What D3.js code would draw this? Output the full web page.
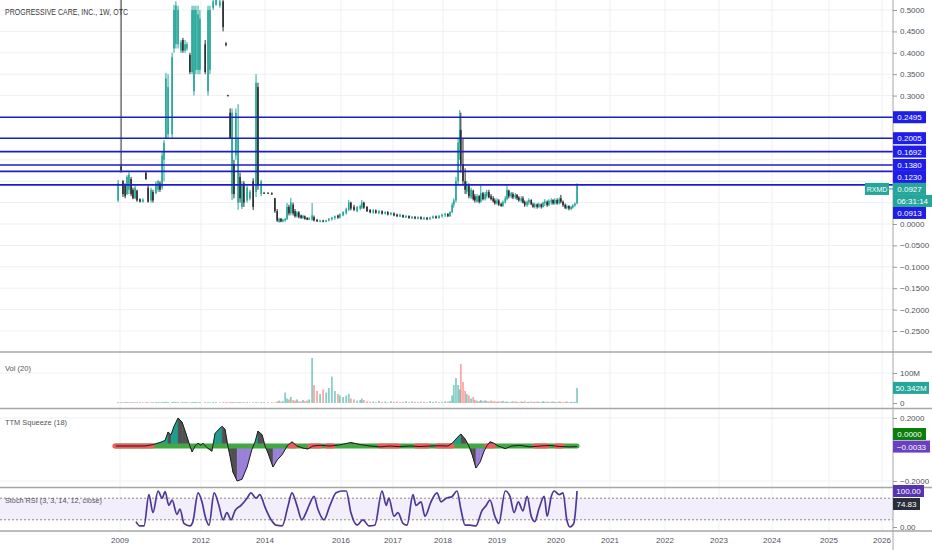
<!DOCTYPE html>
<html><head><meta charset="utf-8">
<script src="https://cdn.jsdelivr.net/npm/d3@7"></script>
<style>html,body{margin:0;padding:0;background:#fff;}svg{display:block;font-family:"Liberation Sans",Arial,sans-serif;}</style>
</head><body><svg id="c" width="932" height="550"></svg>
<script>
// ---------- DATA ----------
const title = "PROGRESSIVE CARE, INC., 1W, OTC";
const yearTicks = [2009,2012,2014,2016,2017,2018,2019,2020,2021,2022,2023,2024,2025,2026];
const yearPos   = [120,201,265,341,393,443,497,556,610,665,719,772,829,882]; // TradingView bar-index spacing
const priceTicks = [0.5,0.45,0.4,0.35,0.3,0.25,0.2,0.15,0.1,0.05,0,-0.05,-0.1,-0.15,-0.2,-0.25];
const levelValues = [0.2495,0.2005,0.1692,0.1380,0.1230,0.0913];
const lastPrice = 0.0927, ticker = "RXMD", countdown = "06:31:14";

const priceDates = [
2008.93,2009.04,2009.11,2009.19,2009.26,2009.33,2009.41,2009.48,2009.56,2009.63,
2009.74,2009.85,2009.96,2010.04,2010.15,2010.22,2010.33,2010.41,2010.48,2010.56,
2010.63,2010.70,2010.78,2010.93,2011.00,2011.07,2011.15,2011.26,2011.33,2011.41,
2011.48,2011.59,2011.67,2011.74,2011.81,2011.89,2011.96,2012.13,2012.22,2012.28,
2012.38,2012.47,2012.59,2012.69,2012.78,2012.84,2012.91,2012.97,2013.03,2013.09,
2013.16,2013.22,2013.28,2013.34,2013.44,2013.53,2013.63,2013.72,2013.78,2013.88,
2013.97,2014.08,2014.18,2014.26,2014.32,2014.37,2014.42,2014.47,2014.53,2014.58,
2014.63,2014.68,2014.74,2014.79,2014.84,2014.89,2014.95,2015.00,2015.05,2015.11,
2015.16,2015.24,2015.29,2015.37,2015.45,2015.53,2015.61,2015.68,2015.76,2015.84,
2015.92,2015.97,2016.04,2016.10,2016.15,2016.19,2016.25,2016.31,2016.37,2016.40,
2016.44,2016.50,2016.56,2016.62,2016.67,2016.73,2016.79,2016.85,2016.90,2016.96,
2017.02,2017.08,2017.14,2017.20,2017.26,2017.32,2017.38,2017.44,2017.50,2017.56,
2017.62,2017.68,2017.74,2017.80,2017.86,2017.92,2017.98,2018.04,2018.09,2018.13,
2018.17,2018.20,2018.24,2018.28,2018.31,2018.33,2018.37,2018.41,2018.44,2018.48,
2018.52,2018.56,2018.59,2018.63,2018.67,2018.70,2018.74,2018.78,2018.81,2018.85,
2018.89,2018.93,2018.96,2019.00,2019.03,2019.07,2019.10,2019.14,2019.17,2019.20,
2019.24,2019.27,2019.31,2019.34,2019.37,2019.41,2019.44,2019.47,2019.51,2019.54,
2019.58,2019.61,2019.64,2019.68,2019.71,2019.75,2019.78,2019.81,2019.85,2019.88,
2019.92,2019.95,2019.98,2020.02,2020.06,2020.09,2020.13,2020.17,2020.20,2020.24,
2020.28,2020.31,2020.35,2020.39];
const priceOpen = [
.055,.135,.10,.09,.07,.08,.105,.08,.06,.078,
.058,.052,.12,.085,.055,.075,.072,.08,.095,.085,
.15,.20,.21,.21,.41,.42,.42,.405,.43,.405,
.41,.395,.355,.31,.36,.36,.36,.42,.31,.36,
.505,.512,.51,.52,.422,.301,.26,.07,.14,.16,
.05,.11,.04,.095,.055,.06,.10,.075,.32,.07,
.073,.073,.072,.06,.03,.005,.012,.006,.008,.012,
.04,.025,.045,.03,.018,.027,.02,.014,.018,.014,
.01,.01,.016,.01,.005,.008,.005,.008,.011,.014,
.02,.015,.02,.025,.033,.05,.04,.03,.036,.038,
.05,.04,.033,.026,.032,.025,.03,.024,.028,.022,
.025,.022,.017,.021,.015,.019,.013,.017,.012,.016,
.011,.015,.011,.014,.018,.014,.018,.02,.024,.018,
.028,.045,.055,.10,.19,.22,.14,.10,.075,.09,
.062,.078,.065,.052,.065,.052,.072,.058,.065,.075,
.065,.06,.055,.048,.055,.047,.042,.05,.058,.078,
.064,.07,.062,.068,.062,.054,.06,.052,.044,.05,
.056,.046,.04,.046,.04,.046,.04,.048,.052,.044,
.05,.056,.048,.056,.048,.06,.052,.045,.037,.042,
.035,.038,.043,.048];
const priceHigh = [
.103,.62,.103,.095,.114,.121,.11,.085,.09,.08,
.06,.06,.121,.09,.085,.08,.10,.103,.10,.168,
.196,.353,.35,.40,.512,.52,.51,.43,.435,.43,
.425,.40,.51,.51,.51,.51,.50,.43,.51,.51,
.53,.53,.53,.53,.425,.302,.27,.27,.15,.27,
.28,.12,.10,.10,.09,.08,.107,.35,.33,.103,
.075,.074,.074,.061,.035,.015,.014,.012,.014,.049,
.045,.061,.05,.035,.03,.03,.022,.022,.02,.016,
.016,.049,.02,.012,.01,.01,.01,.014,.017,.02,
.022,.025,.03,.038,.056,.052,.045,.042,.045,.056,
.052,.042,.035,.035,.034,.033,.032,.03,.03,.028,
.027,.024,.024,.022,.021,.02,.019,.018,.018,.018,
.017,.016,.017,.02,.02,.021,.024,.026,.025,.03,
.05,.06,.11,.20,.266,.26,.20,.13,.10,.095,
.085,.08,.07,.07,.068,.09,.075,.075,.08,.08,
.07,.065,.06,.06,.058,.05,.055,.065,.09,.08,
.075,.074,.072,.07,.065,.065,.065,.055,.055,.06,
.058,.05,.05,.048,.05,.048,.052,.058,.055,.058,
.06,.058,.06,.06,.062,.068,.055,.048,.045,.044,
.042,.046,.05,.095];
const priceLow = [
.051,.12,.063,.06,.068,.07,.065,.058,.058,.052,
.05,.05,.103,.05,.05,.05,.07,.075,.075,.08,
.10,.20,.20,.20,.40,.41,.41,.40,.40,.40,
.405,.35,.35,.30,.35,.35,.35,.35,.30,.35,
.50,.51,.505,.45,.415,.298,.20,.056,.06,.15,
.033,.05,.035,.04,.05,.055,.033,.063,.08,.065,
.07,.07,.068,.026,.005,.003,.004,.004,.005,.009,
.02,.02,.02,.015,.015,.013,.012,.012,.01,.009,
.009,.008,.006,.005,.004,.004,.004,.006,.008,.01,
.012,.013,.018,.022,.03,.032,.03,.028,.032,.035,
.035,.028,.025,.024,.024,.023,.022,.022,.02,.02,
.018,.016,.016,.014,.014,.012,.012,.011,.011,.01,
.01,.009,.01,.012,.012,.012,.015,.016,.016,.017,
.025,.038,.05,.09,.15,.12,.09,.07,.07,.06,
.058,.055,.05,.05,.048,.05,.055,.055,.06,.06,
.055,.05,.045,.045,.042,.04,.04,.048,.055,.06,
.06,.058,.058,.056,.052,.05,.048,.04,.04,.045,
.044,.038,.036,.036,.037,.036,.038,.042,.04,.042,
.045,.045,.045,.045,.046,.048,.04,.035,.034,.032,
.032,.036,.04,.046];
const priceClose = [
.095,.125,.07,.065,.11,.115,.07,.06,.085,.055,
.052,.057,.105,.052,.08,.055,.095,.10,.08,.16,
.19,.34,.32,.39,.50,.51,.50,.425,.405,.42,
.42,.355,.50,.50,.50,.49,.48,.355,.50,.50,
.52,.525,.52,.46,.418,.299,.20,.26,.07,.26,
.20,.06,.09,.05,.085,.075,.04,.33,.09,.10,
.071,.071,.069,.03,.008,.012,.006,.01,.012,.04,
.025,.05,.025,.018,.027,.016,.014,.019,.012,.01,
.014,.02,.008,.006,.008,.005,.009,.012,.015,.018,
.015,.023,.028,.035,.05,.036,.033,.04,.042,.05,
.038,.03,.027,.032,.026,.03,.024,.028,.022,.026,
.02,.018,.022,.016,.019,.014,.017,.013,.016,.012,
.015,.011,.015,.018,.014,.019,.022,.024,.018,.028,
.045,.055,.10,.19,.22,.14,.10,.08,.09,.065,
.08,.058,.055,.065,.052,.072,.058,.07,.075,.062,
.058,.053,.048,.055,.045,.042,.052,.06,.08,.065,
.072,.062,.068,.06,.055,.06,.05,.044,.052,.056,
.046,.04,.046,.04,.047,.04,.05,.053,.044,.054,
.056,.048,.056,.048,.058,.052,.044,.038,.042,.036,
.04,.044,.048,.0927];
const volumeM = [ // millions
3,3,2,3,3,2,3,3,2,3, 3,2,3,3,2,3,3,3,2,3,
3,4,3,3,4,3,3,2,3,3, 3,2,3,3,3,2,3,3,3,2,
3,3,2,3,3,2,3,3,3,2, 3,3,2,3,3,2,3,3,2,3,
3,2,3,
2,5,8,4,6,35,15,12,20,10,8,12,6,5,10,6,8,12,150,60,40,30,45,35,50,88,40,30,25,20,25,30,15,12,8,10,15,10,
6,4,5,3,7,4,5,3,6,4, 5,3,4,6,3,5,4,3,5,4, 3,6,4,5,3,4,6,5,7,
25,60,83,60,45,130,70,40,30,25,15,20,10,
8,6,10,7,9,6,5,8,6,5, 4,6,5,7,4,5,3,4,6,5, 4,3,5,4,6,3,4,5,3,4,
5,4,3,6,4,5,3,4,5,4, 3,5,4,3,4,5,3,4,3,4,
50.342];

const ttmDates = [2008.85,2009.37,2009.93,2010.22,2010.48,2010.67,2010.78,2010.89,2011.00,2011.15,
2011.30,2011.44,2011.59,2011.67,2011.78,2011.89,2012.00,2012.06,2012.19,2012.34,
2012.44,2012.56,2012.66,2012.75,2012.84,2012.91,2013.00,2013.13,2013.28,2013.44,
2013.59,2013.69,2013.78,2013.91,2014.00,2014.08,2014.21,2014.32,2014.45,2014.58,
2014.71,2014.84,2015.00,2015.13,2015.26,2015.45,2015.71,2015.97,2016.19,2016.37,
2016.56,2016.75,2016.94,2017.14,2017.34,2017.54,2017.74,2017.94,2018.09,2018.17,
2018.24,2018.33,2018.41,2018.48,2018.54,2018.61,2018.69,2018.76,2018.81,2018.87,
2018.94,2019.02,2019.14,2019.25,2019.39,2019.56,2019.73,2019.90,2020.07,2020.26,2020.39];
const ttmValues = [0,0,0,0.01,0.025,0.04,0.1,0.08,0.14,0.2,
0.17,0.09,0,-0.034,0,0.02,0.005,0.02,-0.01,-0.03,
0.09,0.12,0.14,0.12,0,-0.06,-0.15,-0.2,-0.19,-0.12,
-0.02,0.03,0.107,0.08,0,-0.04,-0.12,-0.08,-0.05,0,
0.03,0,-0.012,-0.017,0,0.005,0,0.008,0.025,0.01,
0,-0.005,0,-0.004,0,-0.003,0,0.002,0,0.02,
0.05,0.086,0.05,0,-0.05,-0.126,-0.09,-0.03,0,0.03,
0.02,0,-0.015,0,0.005,-0.005,0,0.004,-0.003,-0.005,-0.0033];
const squeezeOnStart = [2008.81,2009.63,2009.85,2014.66,2015.18,2015.63,2016.75,2017.46,2017.88,2018.81,2019.64,2020.00];
const squeezeOnEnd   = [2009.56,2009.81,2010.19,2014.79,2015.45,2015.79,2017.10,2017.70,2018.17,2018.93,2019.85,2020.11];

const stochDates = [2009.59,2009.74,2009.89,2010.07,2010.22,2010.41,2010.56,2010.67,2010.81,2010.93,2011.11,2011.22,2011.37,2011.59,2011.70,2011.89,
2012.03,2012.13,2012.25,2012.41,2012.56,2012.69,2012.81,2012.94,2013.06,2013.25,2013.44,2013.56,2013.72,2013.84,
2014.00,2014.16,2014.29,2014.45,2014.61,2014.71,2014.84,2014.97,2015.08,2015.16,2015.29,2015.39,2015.55,2015.71,2015.87,
2016.02,2016.10,2016.19,2016.31,2016.42,2016.54,2016.65,2016.79,2016.87,2016.92,
2017.02,2017.10,2017.20,2017.28,2017.40,2017.46,2017.56,2017.64,2017.76,2017.88,2017.96,
2018.06,2018.17,2018.26,2018.33,2018.41,2018.50,2018.61,2018.72,2018.80,2018.87,2018.96,
2019.03,2019.14,2019.22,2019.29,2019.36,2019.44,2019.51,2019.58,2019.64,2019.71,2019.80,2019.85,2019.92,2019.97,
2020.06,2020.13,2020.20,2020.26,2020.33,2020.39];
const stochValues = [15,3,3,90,40,100,80,98,60,75,35,50,10,3,15,95,
70,30,5,95,60,20,40,20,45,60,80,95,80,90,
55,20,5,3,60,95,60,20,40,60,85,50,20,60,95,
100,100,40,5,20,3,5,100,60,80,
30,40,10,5,90,60,70,30,70,95,70,
80,85,100,50,5,5,3,45,60,75,30,
10,100,85,40,70,45,85,30,15,50,85,30,85,100,
90,95,20,0,10,100];
const stochK = 100.00, stochD = 74.83;

// ---------- CHART ----------
const svg = d3.select('#c');
const AX = 893, W = 932;
const FONT = '"Liberation Sans", Arial, sans-serif';
const UP = '#26a69a', DOWN = '#2b2b2b';

const x  = d3.scaleLinear().domain(yearTicks).range(yearPos);
const yP = d3.scaleLinear().domain([0,0.5]).range([224,10]);
const yV = d3.scaleLinear().domain([0,100]).range([403,373]);
const yT = d3.scaleLinear().domain([-0.2,0,0.2]).range([481,446,418]);
const yS = d3.scaleLinear().domain([0,100]).range([527,491]);

const panes = {main:[0,352], vol:[352,408.5], ttm:[408.5,487.5], st:[487.5,531]};
const defs = svg.append('defs');
Object.entries(panes).forEach(([k,[a,b]]) => {
  defs.append('clipPath').attr('id','clip-'+k).append('rect').attr('x',0).attr('y',a).attr('width',AX).attr('height',b-a);
});

svg.append('rect').attr('width',W).attr('height',550).attr('fill','#fff');

// grid
const grid = svg.append('g');
yearTicks.forEach(yr => {
  grid.append('line').attr('x1',x(yr)).attr('x2',x(yr)).attr('y1',0).attr('y2',531)
    .attr('stroke','#eef0f5').attr('stroke-width',1);
});
priceTicks.forEach(p => {
  grid.append('line').attr('x1',0).attr('x2',AX).attr('y1',yP(p)).attr('y2',yP(p)).attr('stroke','#eef0f5');
});
grid.append('line').attr('x1',0).attr('x2',AX).attr('y1',yV(100)).attr('y2',yV(100)).attr('stroke','#eef0f5');
[0.2,-0.2].forEach(v => grid.append('line').attr('x1',0).attr('x2',AX).attr('y1',yT(v)).attr('y2',yT(v)).attr('stroke','#eef0f5'));

// title
svg.append('text').attr('x',5).attr('y',14.7).attr('font-size',8.5).attr('fill','#3a3a3a')
  .attr('textLength',123).attr('lengthAdjust','spacingAndGlyphs').text(title);

// candles
const candles = priceDates.map((d,i)=>({d,o:priceOpen[i],h:priceHigh[i],l:priceLow[i],c:priceClose[i],v:volumeM[i]}));
const gc = svg.append('g').attr('clip-path','url(#clip-main)');
gc.selectAll('line.w').data(candles).join('line')
  .attr('x1',d=>x(d.d)).attr('x2',d=>x(d.d)).attr('y1',d=>yP(d.h)).attr('y2',d=>yP(d.l))
  .attr('stroke',d=>d.c>=d.o?UP:DOWN).attr('stroke-width',1);
gc.selectAll('rect').data(candles).join('rect')
  .attr('x',d=>x(d.d)-0.8).attr('width',1.6)
  .attr('y',d=>yP(Math.max(d.o,d.c))).attr('height',d=>Math.max(1,yP(Math.min(d.o,d.c))-yP(Math.max(d.o,d.c))))
  .attr('fill',d=>d.c>=d.o?UP:DOWN);

// horizontal levels
const BLUE_LINE = '#1c1cc8', BLUE_BOX = '#1e1ee8';
levelValues.forEach(v => {
  svg.append('line').attr('x1',0).attr('x2',AX).attr('y1',yP(v)).attr('y2',yP(v))
    .attr('stroke',BLUE_LINE).attr('stroke-width',1.6);
});

// volume
const gv = svg.append('g').attr('clip-path','url(#clip-vol)');
gv.selectAll('rect').data(candles).join('rect')
  .attr('x',d=>x(d.d)-0.9).attr('width',1.8)
  .attr('y',d=>yV(d.v)).attr('height',d=>yV(0)-yV(d.v))
  .attr('fill',d=>d.c>=d.o?'rgba(38,166,154,0.55)':'rgba(239,83,80,0.5)');

// TTM squeeze histogram
const TEAL='#1f9d8d', DARK='#505050', PURP='#9a80d8';
const gt = svg.append('g').attr('clip-path','url(#clip-ttm)');
for (let i=0;i<ttmDates.length-1;i++){
  const d0=ttmDates[i], v0=ttmValues[i], d1=ttmDates[i+1], v1=ttmValues[i+1];
  const rising = v1>v0;
  let pieces=[];
  if (v0*v1<0){ const t=v0/(v0-v1); const dm=d0+(d1-d0)*t; pieces=[[d0,v0,dm,0],[dm,0,d1,v1]]; }
  else pieces=[[d0,v0,d1,v1]];
  pieces.forEach(([a,va,b,vb])=>{
    const s = va+vb;
    if (s===0) return;
    const col = s>0 ? (rising?TEAL:DARK) : (rising?PURP:DARK);
    const p = `M${x(a)},${yT(0)}L${x(a)},${yT(va)}L${x(b)},${yT(vb)}L${x(b)},${yT(0)}Z`;
    gt.append('path').attr('d',p).attr('fill',col).attr('stroke',col).attr('stroke-width',0.4);
  });
}
// zero line with squeeze state
gt.append('line').attr('x1',x(ttmDates[0])).attr('x2',x(ttmDates[ttmDates.length-1]))
  .attr('y1',yT(0)).attr('y2',yT(0)).attr('stroke','#43a843').attr('stroke-width',5).attr('stroke-linecap','round');
squeezeOnStart.forEach((s,i)=>{
  gt.append('line').attr('x1',x(s)).attr('x2',x(squeezeOnEnd[i])).attr('y1',yT(0)).attr('y2',yT(0))
    .attr('stroke','#f05c5c').attr('stroke-width',5).attr('stroke-linecap','round');
});
gt.append('path').datum(ttmDates.map((d,i)=>[d,ttmValues[i]]))
  .attr('d',d3.line().x(d=>x(d[0])).y(d=>yT(d[1])))
  .attr('fill','none').attr('stroke','#1e1e1e').attr('stroke-width',1);

// Stoch RSI
const gs = svg.append('g').attr('clip-path','url(#clip-st)');
gs.append('rect').attr('x',0).attr('width',AX).attr('y',yS(80)).attr('height',yS(20)-yS(80)).attr('fill','#f3eefb');
[80,20].forEach(v=>gs.append('line').attr('x1',0).attr('x2',AX).attr('y1',yS(v)).attr('y2',yS(v))
  .attr('stroke','#8a8a8a').attr('stroke-width',1).attr('stroke-dasharray','2,2'));
gs.append('path').datum(stochDates.map((d,i)=>[d,stochValues[i]]))
  .attr('d',d3.line().x(d=>x(d[0])).y(d=>yS(d[1])).curve(d3.curveMonotoneX))
  .attr('fill','none').attr('stroke','#4a3a93').attr('stroke-width',1.7);

// separators & axis border
[352,408.5,487.5,531].forEach(y=>svg.append('line').attr('x1',0).attr('x2',W).attr('y1',y).attr('y2',y)
  .attr('stroke','#a6a6a6').attr('stroke-width',1.4));
svg.append('line').attr('x1',AX).attr('x2',AX).attr('y1',0).attr('y2',550).attr('stroke','#a6a6a6').attr('stroke-width',1);

// ---- price-scale label stacking (collision push-down) ----
const SP = 12;
const items = levelValues.map(v=>({v, txt:d3.format('.4f')(v), bg:BLUE_BOX}));
items.push({v:lastPrice, txt:d3.format('.4f')(lastPrice), bg:UP, last:true});
items.sort((a,b)=>b.v-a.v || (a.last?-1:1));
let prev = -1e9;
const occupied = [];
items.forEach(it=>{
  const yc = Math.max(yP(it.v), prev+SP);
  it.yc = yc; prev = yc; occupied.push(yc);
  if (it.last){ prev = yc + SP; occupied.push(prev); }
});
const visiblePriceTicks = priceTicks.filter(p => occupied.every(c => Math.abs(yP(p)-c) > 10));

// axes
function styleAxis(g){
  g.attr('font-family',FONT).attr('font-size',8);
  g.select('.domain').remove();
  g.selectAll('line').attr('stroke','#9a9a9a');
  g.selectAll('text').attr('fill','#50535e');
}
svg.append('g').attr('transform',`translate(${AX},0)`)
  .call(d3.axisRight(yP).tickValues(visiblePriceTicks).tickFormat(d3.format('.4f')).tickSize(4)).call(styleAxis);
svg.append('g').attr('transform',`translate(${AX},0)`)
  .call(d3.axisRight(yV).tickValues([0,100]).tickFormat(d=>d===0?'0':d+'M').tickSize(4)).call(styleAxis);
svg.append('g').attr('transform',`translate(${AX},0)`)
  .call(d3.axisRight(yT).tickValues([0.2,-0.2]).tickFormat(d3.format('.4f')).tickSize(4)).call(styleAxis);
svg.append('g').attr('transform',`translate(${AX},0)`)
  .call(d3.axisRight(yS).tickValues([0]).tickFormat(d3.format('.2f')).tickSize(4)).call(styleAxis);

// time axis labels
yearTicks.forEach(yr=>{
  svg.append('text').attr('x',x(yr)).attr('y',543).attr('text-anchor','middle')
    .attr('font-size',8).attr('fill','#50535e').text(yr);
});

// pane titles
svg.append('text').attr('x',5).attr('y',371).attr('font-size',8).attr('fill','#555')
  .attr('textLength',26).attr('lengthAdjust','spacingAndGlyphs').text('Vol (20)');
svg.append('text').attr('x',5).attr('y',424.5).attr('font-size',8).attr('fill','#555')
  .attr('textLength',62).attr('lengthAdjust','spacingAndGlyphs').text('TTM Squeeze (18)');
svg.append('text').attr('x',5).attr('y',502.5).attr('font-size',8).attr('fill','#555')
  .attr('textLength',97).attr('lengthAdjust','spacingAndGlyphs').text('Stoch RSI (3, 3, 14, 12, close)');

// value boxes
function box(yc, txt, bg, x0=AX, w=33, h=12, fs=8){
  svg.append('rect').attr('x',x0).attr('y',yc-h/2).attr('width',w).attr('height',h).attr('fill',bg);
  svg.append('text').attr('x',x0+w/2).attr('y',yc+3).attr('text-anchor','middle').attr('font-size',fs).attr('fill','#fff').text(txt);
}
items.forEach(it=>{
  box(it.yc, it.txt, it.bg);
  if (it.last){
    box(it.yc+SP, countdown, UP, AX, 39);
    svg.append('line').attr('x1',889).attr('x2',AX).attr('y1',it.yc).attr('y2',it.yc).attr('stroke',UP);
    box(it.yc, ticker, UP, 865, 24, 12, 7);
  }
});
box(yV(50.342), '50.342M', UP, AX, 36);
box(yT(0)-12, d3.format('.4f')(0), '#0b7d0b', AX, 33);
box(yT(-0.0033), '\u22120.0033', '#6a3fc0', AX, 37);
const ky = yS(stochK), dy = Math.max(yS(stochD), ky+SP+1);
box(ky, d3.format('.2f')(stochK), '#5733b0', AX, 31);
box(dy, d3.format('.2f')(stochD), '#2a2e39', AX, 27);
</script></body></html>
